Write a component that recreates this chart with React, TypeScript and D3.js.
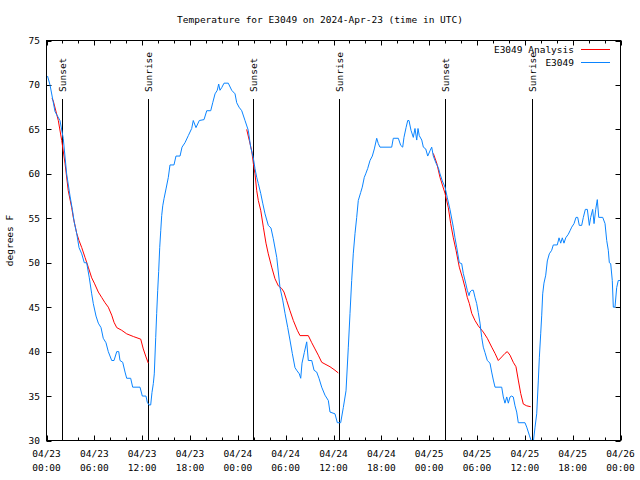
import React from "react";
import * as d3 from "d3";

// Hours since 04/23 00:00 UTC and observed temperature (deg F), station E3049
const obsHours = [0.13,0.44,1.07,1.69,2.1,2.53,2.95,3.24,3.49,3.79,4.08,4.42,4.74,5.04,5.37,5.67,5.87,6.21,6.5,6.84,7.12,7.46,7.75,8.18,8.47,8.81,9.06,9.22,9.56,9.85,10.06,10.56,10.81,11.73,12.02,12.48,12.64,12.86,13.07,13.23,13.4,13.52,13.7,13.82,13.95,14.07,14.2,14.33,14.45,14.58,14.74,14.99,15.28,15.49,15.99,16.24,16.75,17.0,17.37,17.79,18.21,18.41,18.75,19.17,19.76,20.1,20.6,20.85,21.14,21.42,21.6,21.76,21.98,22.27,22.8,23.23,23.65,23.86,24.15,24.49,24.9,25.31,25.61,25.94,26.15,26.37,26.57,26.87,27.12,27.41,27.82,28.16,28.45,28.88,29.29,29.63,29.92,30.26,30.54,30.83,31.17,31.38,31.71,31.89,32.05,32.34,32.64,32.84,33.27,33.56,33.89,34.18,34.52,34.93,35.35,35.56,36.19,36.48,36.9,37.23,37.57,37.86,38.07,38.28,38.48,38.7,38.91,39.11,39.41,39.61,39.86,40.04,40.29,40.58,40.87,41.12,41.42,41.62,41.83,43.3,43.5,44.13,44.43,44.68,44.84,45.1,45.31,45.47,45.72,46.01,46.22,46.44,46.6,46.76,47.07,47.27,47.57,47.82,48.11,48.32,48.52,48.86,49.15,49.36,49.65,49.99,50.28,50.61,51.03,51.24,51.46,51.78,52.08,52.28,52.58,52.78,53.0,53.12,53.34,53.54,53.75,53.96,54.16,54.38,54.59,54.79,55.0,55.29,55.63,55.84,56.05,56.26,57.1,57.3,57.51,57.73,57.93,58.14,58.35,58.55,58.77,58.98,59.18,60.02,60.24,60.56,60.86,61.06,61.28,61.49,61.69,61.82,61.99,62.12,62.24,62.4,62.62,62.82,63.07,63.37,63.57,64.07,64.29,64.5,64.7,64.91,65.13,65.45,65.67,65.88,66.17,66.42,66.63,66.83,67.13,67.34,67.59,67.84,68.09,68.26,68.51,68.68,68.89,69.09,69.27,69.77,70.06,70.27,70.47,70.6,70.77,70.97,71.1,71.31,71.52,71.72,71.93];
const obsTemps = [71,70,67,66,64,60,57.5,56,54.5,53.3,51.7,51,50,50,48.3,46.5,45.4,44,43.2,42.7,41.5,41,40,39,39,40,40,39,38.8,37.7,37,37,36,36,35,35,34.3,34,34,35.4,36.4,37.5,41.6,44.3,46.9,49,51.7,53.6,55.3,56.4,57.2,58.3,59.6,61,61,62,62,63,63.5,64.3,65.1,66,65.2,66,66.1,67.1,67.1,68,69,69.4,70.1,69.4,69.7,70.2,70.2,69.4,69,68,67.5,67.1,66,64.9,63,61.8,60.6,59.6,58.9,57.8,56.7,55.5,54.2,53.9,52.7,50.6,47.2,45.8,44.3,42.7,41.3,39.8,38.2,37.9,37.5,37,38.7,39.9,41.1,39,39,37.9,37.7,37,36,35.1,34.5,33.2,33,32,32,33.7,35.6,40.5,44.3,48,51,53.3,55.1,57,57.9,58.5,59.6,60,60.6,61.5,62,62.8,64,63.4,63,63,64,64,63.2,63,64.1,65.2,66,66,64.9,64.1,65.1,63.8,65.1,64.3,63.8,63,62.8,62,62.6,63,62,61.2,60.7,60,59.2,58.5,57.3,56,54,52.8,51.7,50,49.9,48.8,47.7,46.9,46.3,46.7,46.9,46.9,46.1,45.4,44.4,43.2,41.6,40.5,39.9,39,38.7,37.7,36.8,36,36,34.9,34.2,34.9,34.2,34.9,35,34.9,33.9,33.2,32,32,31.5,30.6,29.8,29.8,31.5,33,36.7,39.3,42,44.1,46.5,47.7,48.6,50.2,51,51.4,52,52,52.8,52.2,52.8,52.2,52.8,53.2,53.6,54,54.4,55.1,55.1,54.2,54.2,55.1,56,56,54.2,55.1,56,54.4,56,57.1,55.1,55.1,54.4,52.5,51.4,50,49.9,48,45,45,47.2,48,48];

// Analysis series (NaN separates the three nightly runs)
const anaHours = [0.69,0.85,1.48,1.91,2.32,2.73,3.16,3.36,3.79,4.08,4.42,4.83,5.24,5.67,6.0,6.5,6.92,7.34,7.75,8.18,8.47,8.81,9.43,10.06,10.89,11.82,12.14,12.48,12.77,NaN,25.11,25.44,25.74,25.94,26.15,26.37,26.57,26.87,27.2,27.53,27.82,28.25,28.66,29.08,29.5,29.79,30.13,30.54,30.96,31.46,31.8,32.84,33.27,33.68,34.09,34.52,34.93,35.56,36.19,36.6,NaN,48.52,48.95,49.36,49.99,50.4,50.7,51.03,51.37,51.78,52.21,52.5,52.78,53.04,53.34,53.75,54.16,54.79,55.29,55.85,56.26,56.67,57.1,57.51,57.8,58.14,58.55,58.89,59.18,59.48,59.81,60.24,60.74];
const anaTemps = [68.5,68.2,66,63.75,61.2,58.1,56.2,55.1,53.3,52.5,51.7,50.6,49.5,48.3,47.7,46.7,46.1,45.5,45,44.1,43.3,42.7,42.4,42,41.7,41.4,40.3,39.4,38.7,NaN,65,63.75,62.6,61.2,60,58.1,57,55.9,54,52.2,51,49.5,48.2,47.4,47.1,46.7,45.75,44.6,43.5,42.4,41.8,41.8,41,40.3,39.6,38.8,38.6,38.3,37.9,37.6,NaN,62.3,61.2,59.6,57.8,56.2,54.4,52.8,51.4,49.5,48.2,47.2,46.1,45.4,44.3,43.5,42.9,42.2,41.5,40.5,39.8,39,39.4,39.8,40,39.6,38.8,38.3,36.8,35.3,34.1,33.9,33.8];

const sunsetHours = [1.91, 25.94, 50.03];
const sunriseHours = [12.77, 36.73, 60.86];

const xTickHours = [0, 6, 12, 18, 24, 30, 36, 42, 48, 54, 60, 66, 72];
const xTickDates = ["04/23","04/23","04/23","04/23","04/24","04/24","04/24","04/24","04/25","04/25","04/25","04/25","04/26"];
const xTickTimes = ["00:00","06:00","12:00","18:00","00:00","06:00","12:00","18:00","00:00","06:00","12:00","18:00","00:00"];
const xMinorHours = d3.range(0, 73, 2);
const yTicks = [30, 35, 40, 45, 50, 55, 60, 65, 70, 75];

const W = 640, H = 480;
const L = 46.5, R = 620.5, T = 40.5, B = 440.5;
const FONT = "'DejaVu Sans Mono', monospace";
const RED = "#ff0000";
const BLUE = "#0a84ff";

export default function App() {
  const x = d3.scaleLinear().domain([0, 72]).range([L, R]);
  const y = d3.scaleLinear().domain([30, 75]).range([B, T]);

  const obs = obsHours.map((h, i) => [h, obsTemps[i]] as [number, number]);
  const ana = anaHours.map((h, i) => [h, anaTemps[i]] as [number, number]);
  const line = d3
    .line<[number, number]>()
    .defined((d) => !isNaN(d[0]) && !isNaN(d[1]))
    .x((d) => x(d[0]))
    .y((d) => y(d[1]));

  const major = 5, minor = 3;
  const sunEvents = [
    ...sunsetHours.map((h) => ({ h, label: "Sunset" })),
    ...sunriseHours.map((h) => ({ h, label: "Sunrise" })),
  ];

  return (
    <svg width={W} height={H} style={{ position: "absolute", left: 0, top: 0, background: "#fff" }} fontFamily={FONT} fontSize={9.5}>
      <rect x={0} y={0} width={W} height={H} fill="#fff" />
      <defs>
        <clipPath id="plot">
          <rect x={L} y={T} width={R - L} height={B - T} />
        </clipPath>
      </defs>
      <text x={320} y={23} textAnchor="middle" fill="#000">
        Temperature for E3049 on 2024-Apr-23 (time in UTC)
      </text>
      <text transform={`translate(13,${(T + B) / 2}) rotate(-90)`} textAnchor="middle" fill="#000">
        degrees F
      </text>

      {/* y ticks */}
      {yTicks.map((v) => (
        <g key={"y" + v}>
          <line x1={L} x2={L + major} y1={Math.round(y(v)) + 0.5} y2={Math.round(y(v)) + 0.5} stroke="#000" />
          <line x1={R} x2={R - major} y1={Math.round(y(v)) + 0.5} y2={Math.round(y(v)) + 0.5} stroke="#000" />
          <text x={40} y={y(v) + 3.5} textAnchor="end" fill="#000">{v}</text>
        </g>
      ))}

      {/* x ticks */}
      {xMinorHours.map((h) => {
        const len = h % 6 === 0 ? major : minor;
        const px = Math.round(x(h)) + 0.5;
        return (
          <g key={"xm" + h}>
            <line x1={px} x2={px} y1={B} y2={B - len} stroke="#000" />
            <line x1={px} x2={px} y1={T} y2={T + len} stroke="#000" />
          </g>
        );
      })}
      {xTickHours.map((h, i) => (
        <g key={"xl" + h}>
          <text x={x(h)} y={457} textAnchor="middle" fill="#000">{xTickDates[i]}</text>
          <text x={x(h)} y={471} textAnchor="middle" fill="#000">{xTickTimes[i]}</text>
        </g>
      ))}

      {/* sunrise / sunset markers */}
      {sunEvents.map((e, i) => {
        const px = Math.round(x(e.h)) + 0.5;
        return (
          <g key={"sun" + i}>
            <line x1={px} x2={px} y1={99} y2={B} stroke="#000" />
            <text transform={`translate(${px + 3.5},92) rotate(-90)`} textAnchor="start" fill="#000">
              {e.label}
            </text>
          </g>
        );
      })}

      <g clipPath="url(#plot)">
        <path d={line(ana) || ""} fill="none" stroke={RED} strokeWidth={1} />
        <path d={line(obs) || ""} fill="none" stroke={BLUE} strokeWidth={1} />
      </g>

      <rect x={L} y={T} width={R - L} height={B - T} fill="none" stroke="#000" />

      {/* legend */}
      <text x={574} y={53} textAnchor="end" fill="#000">E3049 Analysis</text>
      <line x1={581} x2={610} y1={49.5} y2={49.5} stroke={RED} />
      <text x={574} y={66} textAnchor="end" fill="#000">E3049</text>
      <line x1={581} x2={610} y1={62.5} y2={62.5} stroke={BLUE} />
    </svg>
  );
}
